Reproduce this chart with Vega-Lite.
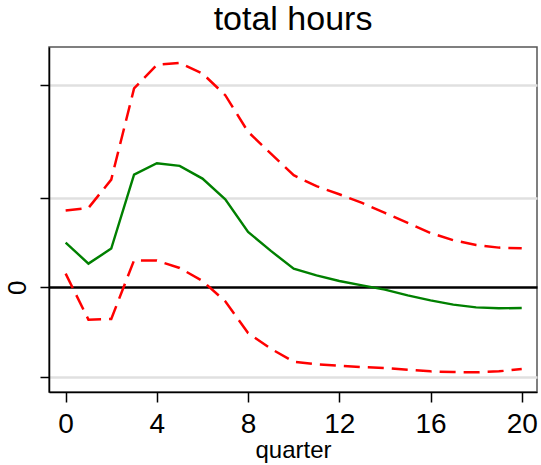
{
  "$schema": "https://vega.github.io/schema/vega-lite/v6.json",
  "width": 488,
  "height": 345,
  "autosize": {"type": "none"},
  "padding": {"left": 49, "top": 47, "right": 4, "bottom": 73},
  "background": "white",
  "config": {
    "font": "Liberation Sans",
    "view": {"stroke": "#555555", "strokeWidth": 1.5}
  },
  "title": {"text": "total hours", "fontSize": 34, "fontWeight": "normal", "color": "black", "offset": 10, "dx": 0},
  "data": {"values": [
    {"q": 0, "irf": 0.50, "lo": 0.153, "hi": 0.858},
    {"q": 1, "irf": 0.265, "lo": -0.362, "hi": 0.888},
    {"q": 2, "irf": 0.433, "lo": -0.354, "hi": 1.205},
    {"q": 3, "irf": 1.261, "lo": 0.302, "hi": 2.224},
    {"q": 4, "irf": 1.388, "lo": 0.299, "hi": 2.489},
    {"q": 5, "irf": 1.358, "lo": 0.216, "hi": 2.511},
    {"q": 6, "irf": 1.216, "lo": 0.071, "hi": 2.392},
    {"q": 7, "irf": 0.985, "lo": -0.157, "hi": 2.149},
    {"q": 8, "irf": 0.619, "lo": -0.511, "hi": 1.739},
    {"q": 9, "irf": 0.407, "lo": -0.687, "hi": 1.496},
    {"q": 10, "irf": 0.209, "lo": -0.832, "hi": 1.254},
    {"q": 11, "irf": 0.134, "lo": -0.862, "hi": 1.131},
    {"q": 12, "irf": 0.071, "lo": -0.877, "hi": 1.041},
    {"q": 13, "irf": 0.022, "lo": -0.892, "hi": 0.944},
    {"q": 14, "irf": -0.026, "lo": -0.903, "hi": 0.832},
    {"q": 15, "irf": -0.090, "lo": -0.922, "hi": 0.720},
    {"q": 16, "irf": -0.146, "lo": -0.940, "hi": 0.608},
    {"q": 17, "irf": -0.194, "lo": -0.948, "hi": 0.526},
    {"q": 18, "irf": -0.224, "lo": -0.951, "hi": 0.474},
    {"q": 19, "irf": -0.235, "lo": -0.940, "hi": 0.444},
    {"q": 20, "irf": -0.231, "lo": -0.914, "hi": 0.437}
  ]},
  "encoding": {
    "x": {
      "field": "q", "type": "quantitative",
      "scale": {"domain": [-0.73, 20.67], "nice": false, "zero": false},
      "axis": {
        "values": [0, 4, 8, 12, 16, 20], "title": "quarter", "grid": false,
        "domainColor": "black", "domainWidth": 1.5, "tickColor": "black", "tickWidth": 1.5, "tickSize": 10,
        "labelFontSize": 28, "labelColor": "black", "labelPadding": 8, "labelFlush": false,
        "titleFontSize": 24, "titleFontWeight": "normal", "titleColor": "black", "titlePadding": 0
      }
    }
  },
  "layer": [
    {
      "mark": {"type": "rule", "color": "black", "strokeWidth": 2},
      "data": {"values": [{"z": 0}]},
      "encoding": {
        "y": {
          "field": "z", "type": "quantitative",
          "scale": {"domain": [-1.171, 2.688], "nice": false, "zero": false},
          "axis": {
            "values": [-1, 0, 1, 2.26], "title": null,
            "labelExpr": "datum.value == 0 ? '0' : ''",
            "grid": true, "gridColor": {"condition": {"test": "datum.value == 0", "value": "black"}, "value": "#e0e0e0"}, "gridWidth": 2.5,
            "domainColor": "black", "domainWidth": 1.5, "tickColor": "black", "tickWidth": 1.5, "tickSize": 9,
            "labelFontSize": 26, "labelColor": "black", "labelAngle": -90, "labelAlign": "center", "labelBaseline": "bottom", "labelPadding": 10
          }
        }
      }
    },
    {
      "mark": {"type": "line", "color": "#ff0000", "strokeWidth": 2.5, "strokeDash": [16, 8]},
      "encoding": {"y": {"field": "hi", "type": "quantitative"}}
    },
    {
      "mark": {"type": "line", "color": "#ff0000", "strokeWidth": 2.5, "strokeDash": [16, 8]},
      "encoding": {"y": {"field": "lo", "type": "quantitative"}}
    },
    {
      "mark": {"type": "line", "color": "#008000", "strokeWidth": 2.4},
      "encoding": {"y": {"field": "irf", "type": "quantitative"}}
    },
    {
      "mark": {"type": "rule", "color": "black", "strokeWidth": 2},
      "data": {"values": [{"z": 0}]},
      "encoding": {"y": {"field": "z", "type": "quantitative"}}
    }
  ]
}
